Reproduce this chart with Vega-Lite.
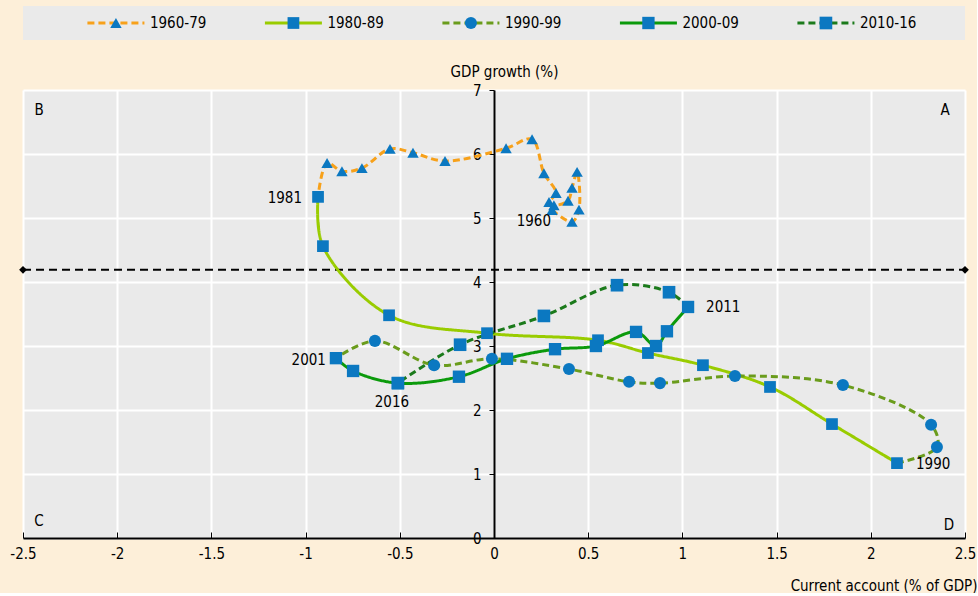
{
  "$schema": "https://vega.github.io/schema/vega-lite/v6.json",
  "background": "#fdefd9",
  "padding": {"left": 9, "top": 6, "right": 0, "bottom": 0},
  "bounds": "flush",
  "spacing": 50,
  "config": {
    "font": "DejaVu Sans Condensed, sans-serif",
    "view": {"stroke": null},
    "text": {"color": "black", "fontSize": 15}
  },
  "datasets": {
    "keys": [
      {"series": "1960-79"}, {"series": "1980-89"}, {"series": "1990-99"}, {"series": "2000-09"}, {"series": "2010-16"}
    ],
    "ref": [
      {"x": -2.5, "y": 4.19}, {"x": 2.5, "y": 4.19}
    ],
    "corners": [
      {"t": "A", "x": 2.394, "y": 6.69},
      {"t": "B", "x": -2.415, "y": 6.69},
      {"t": "C", "x": -2.415, "y": 0.27},
      {"t": "D", "x": 2.415, "y": 0.2}
    ],
    "pts": [
      {"series": "1960-79", "year": 1960, "x": 0.308, "y": 5.125, "label": "1960"},
      {"series": "1960-79", "year": 1961, "x": 0.414, "y": 4.94},
      {"series": "1960-79", "year": 1962, "x": 0.451, "y": 5.13},
      {"series": "1960-79", "year": 1963, "x": 0.441, "y": 5.72},
      {"series": "1960-79", "year": 1964, "x": 0.414, "y": 5.47},
      {"series": "1960-79", "year": 1965, "x": 0.393, "y": 5.27},
      {"series": "1960-79", "year": 1966, "x": 0.318, "y": 5.2},
      {"series": "1960-79", "year": 1967, "x": 0.292, "y": 5.25},
      {"series": "1960-79", "year": 1968, "x": 0.329, "y": 5.39},
      {"series": "1960-79", "year": 1969, "x": 0.265, "y": 5.7},
      {"series": "1960-79", "year": 1970, "x": 0.202, "y": 6.23},
      {"series": "1960-79", "year": 1971, "x": 0.064, "y": 6.09},
      {"series": "1960-79", "year": 1972, "x": -0.26, "y": 5.89},
      {"series": "1960-79", "year": 1973, "x": -0.43, "y": 6.02},
      {"series": "1960-79", "year": 1974, "x": -0.552, "y": 6.08},
      {"series": "1960-79", "year": 1975, "x": -0.701, "y": 5.78},
      {"series": "1960-79", "year": 1976, "x": -0.807, "y": 5.73},
      {"series": "1960-79", "year": 1977, "x": -0.886, "y": 5.86},
      {"series": "1980-89", "year": 1981, "x": -0.934, "y": 5.33, "label": "1981", "also": "1960-79"},
      {"series": "1980-89", "year": 1982, "x": -0.908, "y": 4.56},
      {"series": "1980-89", "year": 1983, "x": -0.557, "y": 3.48},
      {"series": "1980-89", "year": 1984, "x": -0.037, "y": 3.2},
      {"series": "1980-89", "year": 1985, "x": 0.552, "y": 3.09},
      {"series": "1980-89", "year": 1986, "x": 0.817, "y": 2.89},
      {"series": "1980-89", "year": 1987, "x": 1.109, "y": 2.7},
      {"series": "1980-89", "year": 1988, "x": 1.465, "y": 2.36},
      {"series": "1980-89", "year": 1989, "x": 1.794, "y": 1.78},
      {"series": "1980-89", "year": 1990, "x": 2.139, "y": 1.17, "label": "1990", "also": "1990-99"},
      {"series": "1990-99", "year": 1991, "x": 2.351, "y": 1.42},
      {"series": "1990-99", "year": 1992, "x": 2.32, "y": 1.77},
      {"series": "1990-99", "year": 1993, "x": 1.852, "y": 2.39},
      {"series": "1990-99", "year": 1994, "x": 1.279, "y": 2.53},
      {"series": "1990-99", "year": 1995, "x": 0.881, "y": 2.42},
      {"series": "1990-99", "year": 1996, "x": 0.717, "y": 2.44},
      {"series": "1990-99", "year": 1997, "x": 0.398, "y": 2.64},
      {"series": "1990-99", "year": 1998, "x": -0.011, "y": 2.8},
      {"series": "1990-99", "year": 1999, "x": -0.318, "y": 2.7},
      {"series": "1990-99", "year": 2000, "x": -0.632, "y": 3.08},
      {"series": "2000-09", "year": 2001, "x": -0.839, "y": 2.81, "label": "2001", "also": "1990-99"},
      {"series": "2000-09", "year": 2002, "x": -0.748, "y": 2.61},
      {"series": "2000-09", "year": 2003, "x": -0.51, "y": 2.42},
      {"series": "2000-09", "year": 2004, "x": -0.186, "y": 2.52},
      {"series": "2000-09", "year": 2005, "x": 0.069, "y": 2.8},
      {"series": "2000-09", "year": 2006, "x": 0.324, "y": 2.95},
      {"series": "2000-09", "year": 2007, "x": 0.541, "y": 3.0},
      {"series": "2000-09", "year": 2008, "x": 0.754, "y": 3.22},
      {"series": "2000-09", "year": 2009, "x": 0.86, "y": 3.0},
      {"series": "2000-09", "year": 2010, "x": 0.918, "y": 3.23},
      {"series": "2000-09", "year": 2011, "x": 1.03, "y": 3.61, "label": "2011", "also": "2010-16"},
      {"series": "2010-16", "year": 2012, "x": 0.929, "y": 3.84},
      {"series": "2010-16", "year": 2013, "x": 0.653, "y": 3.95},
      {"series": "2010-16", "year": 2014, "x": 0.265, "y": 3.47},
      {"series": "2010-16", "year": 2015, "x": -0.18, "y": 3.02},
      {"series": "2010-16", "year": 2016, "x": -0.51, "y": 2.42, "label": "2016"}
    ]
  },
  "vconcat": [
    {
      "width": 942,
      "height": 34,
      "view": {"fill": "#eaeaea", "stroke": null},
      "data": {"name": "keys"},
      "encoding": {
        "x": {"field": "series", "type": "nominal", "bandPosition": 0.37, "scale": {"type": "band", "paddingOuter": 0.1535, "paddingInner": 0}, "axis": null}
      },
      "layer": [
        {
          "mark": {"type": "point", "shape": "M-1,0L1,0", "size": 3249, "filled": false, "strokeWidth": 3, "opacity": 1},
          "encoding": {
            "color": {"field": "series", "type": "nominal", "legend": null, "scale": {"domain": ["1960-79", "1980-89", "1990-99", "2000-09", "2010-16"], "range": ["#f7a11a", "#99cc00", "#6a9c1c", "#0b9a0b", "#1b7a1b"]}},
            "strokeDash": {"field": "series", "type": "nominal", "legend": null, "scale": {"domain": ["1960-79", "1980-89", "1990-99", "2000-09", "2010-16"], "range": [[7, 4], [1, 0], [7, 4], [1, 0], [7, 4]]}}
          }
        },
        {
          "mark": {"type": "point", "filled": true, "opacity": 1, "color": "#0b78c1", "strokeWidth": 0},
          "encoding": {
            "shape": {"field": "series", "type": "nominal", "legend": null, "scale": {"domain": ["1960-79", "1980-89", "1990-99", "2000-09", "2010-16"], "range": ["triangle-up", "square", "circle", "square", "square"]}},
            "size": {"field": "series", "type": "nominal", "legend": null, "scale": {"domain": ["1960-79", "1980-89", "1990-99", "2000-09", "2010-16"], "range": [130, 160, 130, 160, 160]}}
          }
        },
        {
          "mark": {"type": "text", "align": "left", "dx": 34, "fontSize": 15, "color": "black"},
          "encoding": {"text": {"field": "series"}}
        }
      ]
    },
    {
      "width": 942,
      "height": 448,
      "view": {"fill": "#eaeaea", "stroke": null},
      "layer": [
        {
          "data": {"name": "ref"},
          "mark": {"type": "line", "color": "black", "strokeWidth": 2, "strokeDash": [8, 5]},
          "encoding": {
            "x": {"field": "x", "type": "quantitative", "scale": {"domain": [-2.5, 2.5], "nice": false, "zero": false},
              "axis": {"values": [-2.5, -2, -1.5, -1, -0.5, 0, 0.5, 1, 1.5, 2, 2.5], "labelExpr": "'' + datum.value", "grid": true, "gridColor": "white", "gridWidth": 2, "domainColor": "black", "domainWidth": 2, "tickColor": "black", "tickSize": -6, "labelPadding": 14, "labelFontSize": 15, "labelColor": "black", "labelFlush": false, "labelOverlap": false, "title": "Current account (% of GDP)", "titleFontSize": 15, "titleFontWeight": "normal", "titleColor": "black", "titleX": 954, "titleY": 52, "titleAlign": "right", "titleAnchor": null, "titleBaseline": "alphabetic"}},
            "y": {"field": "y", "type": "quantitative", "scale": {"domain": [0, 7], "nice": false, "zero": false},
              "axis": {"orient": "left", "offset": -471, "values": [0, 1, 2, 3, 4, 5, 6, 7], "labelExpr": "'' + datum.value", "grid": true, "gridColor": "white", "gridWidth": 2, "domainColor": "black", "domainWidth": 2, "tickColor": "black", "tickSize": 5, "labelPadding": 8, "labelFontSize": 15, "labelColor": "black", "labelFlush": false, "labelOverlap": false, "title": "GDP growth (%)", "titleAngle": 0, "titleX": 10, "titleY": -14, "titleAlign": "center", "titleBaseline": "alphabetic", "titleFontSize": 15, "titleFontWeight": "normal", "titleColor": "black"}}
          }
        },
        {
          "data": {"name": "ref"},
          "mark": {"type": "point", "shape": "diamond", "filled": true, "color": "black", "size": 60, "opacity": 1},
          "encoding": {
            "x": {"field": "x", "type": "quantitative"},
            "y": {"field": "y", "type": "quantitative"}
          }
        },
        {
          "data": {"name": "pts"},
          "transform": [
            {"fold": ["series", "also"], "as": ["role", "line"]},
            {"filter": "isValid(datum.line)"}
          ],
          "mark": {"type": "line", "interpolate": "catmull-rom", "strokeWidth": 3},
          "encoding": {
            "x": {"field": "x", "type": "quantitative"},
            "y": {"field": "y", "type": "quantitative"},
            "color": {"field": "line", "type": "nominal", "legend": null, "scale": {"domain": ["1960-79", "1980-89", "1990-99", "2000-09", "2010-16"], "range": ["#f7a11a", "#99cc00", "#6a9c1c", "#0b9a0b", "#1b7a1b"]}},
            "strokeDash": {"field": "line", "type": "nominal", "legend": null, "scale": {"domain": ["1960-79", "1980-89", "1990-99", "2000-09", "2010-16"], "range": [[7, 4], [1, 0], [7, 4], [1, 0], [7, 4]]}},
            "order": {"field": "year", "type": "quantitative"}
          }
        },
        {
          "data": {"name": "pts"},
          "mark": {"type": "point", "filled": true, "opacity": 1, "color": "#0b78c1", "strokeWidth": 0},
          "encoding": {
            "x": {"field": "x", "type": "quantitative"},
            "y": {"field": "y", "type": "quantitative"},
            "shape": {"field": "series", "type": "nominal", "legend": null, "scale": {"domain": ["1960-79", "1980-89", "1990-99", "2000-09", "2010-16"], "range": ["triangle-up", "square", "circle", "square", "square"]}},
            "size": {"field": "series", "type": "nominal", "legend": null, "scale": {"domain": ["1960-79", "1980-89", "1990-99", "2000-09", "2010-16"], "range": [130, 160, 130, 160, 160]}}
          }
        },
        {
          "data": {"name": "pts"},
          "transform": [{"filter": "datum.label == '1981'"}],
          "mark": {"type": "text", "align": "right", "dx": -16, "dy": 1, "fontSize": 15},
          "encoding": {"x": {"field": "x", "type": "quantitative"}, "y": {"field": "y", "type": "quantitative"}, "text": {"field": "label"}}
        },
        {
          "data": {"name": "pts"},
          "transform": [{"filter": "datum.label == '2001'"}],
          "mark": {"type": "text", "align": "right", "dx": -10, "dy": 2, "fontSize": 15},
          "encoding": {"x": {"field": "x", "type": "quantitative"}, "y": {"field": "y", "type": "quantitative"}, "text": {"field": "label"}}
        },
        {
          "data": {"name": "pts"},
          "transform": [{"filter": "datum.label == '1960'"}],
          "mark": {"type": "text", "align": "right", "dx": -1, "dy": 11, "fontSize": 15},
          "encoding": {"x": {"field": "x", "type": "quantitative"}, "y": {"field": "y", "type": "quantitative"}, "text": {"field": "label"}}
        },
        {
          "data": {"name": "pts"},
          "transform": [{"filter": "datum.label == '2016'"}],
          "mark": {"type": "text", "align": "center", "dx": -6, "dy": 19, "fontSize": 15},
          "encoding": {"x": {"field": "x", "type": "quantitative"}, "y": {"field": "y", "type": "quantitative"}, "text": {"field": "label"}}
        },
        {
          "data": {"name": "pts"},
          "transform": [{"filter": "datum.label == '2011'"}],
          "mark": {"type": "text", "align": "left", "dx": 18, "dy": 0, "fontSize": 15},
          "encoding": {"x": {"field": "x", "type": "quantitative"}, "y": {"field": "y", "type": "quantitative"}, "text": {"field": "label"}}
        },
        {
          "data": {"name": "pts"},
          "transform": [{"filter": "datum.label == '1990'"}],
          "mark": {"type": "text", "align": "left", "dx": 19, "dy": 1, "fontSize": 15},
          "encoding": {"x": {"field": "x", "type": "quantitative"}, "y": {"field": "y", "type": "quantitative"}, "text": {"field": "label"}}
        },
        {
          "data": {"name": "corners"},
          "mark": {"type": "text", "align": "center", "fontSize": 15},
          "encoding": {"x": {"field": "x", "type": "quantitative"}, "y": {"field": "y", "type": "quantitative"}, "text": {"field": "t"}}
        }
      ]
    }
  ]
}
